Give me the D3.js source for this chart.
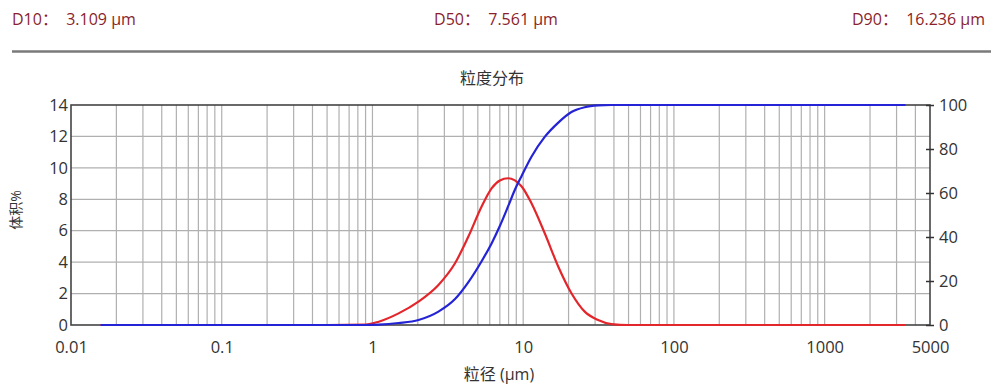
<!DOCTYPE html>
<html>
<head>
<meta charset="utf-8">
<script src="https://cdn.jsdelivr.net/npm/d3@7"></script>
<style>
  html, body { margin: 0; padding: 0; background: #fff; }
  svg { display: block; font-family: "Open Sans", "Noto Sans CJK SC", sans-serif; }
</style>
</head>
<body>
<svg id="chart" width="991" height="384"></svg>
<script>
// particle size (um)
const sizes = [0.0157, 0.1, 0.5, 0.9, 1.10, 1.49, 2.02, 2.74, 3.53, 4.33, 5.30, 6.17, 7.00, 7.95, 8.81, 9.80, 11.35, 13.9, 17.1, 20.9, 25.6, 31.4, 38.5, 50, 100, 1000, 3440];
// volume % (left axis)
const volume = [0, 0, 0, 0.03, 0.21, 0.74, 1.49, 2.55, 3.93, 5.63, 7.54, 8.70, 9.20, 9.34, 9.20, 8.80, 7.75, 5.84, 3.71, 2.02, 0.85, 0.32, 0.06, 0, 0, 0, 0];
// cumulative % (right axis)
const cumulative = [0, 0, 0, 0, 0.15, 0.9, 2.3, 6.1, 11.8, 19.5, 29, 37.1, 45, 54, 61.5, 68, 76.5, 85.5, 92, 96.8, 99.0, 99.8, 100, 100, 100, 100, 100];

const xTicks = [0.01, 0.1, 1, 10, 100, 1000, 5000];
const yLeftTicks = [0, 2, 4, 6, 8, 10, 12, 14];
const yRightTicks = [0, 20, 40, 60, 80, 100];
const dLabels = ["D10：", "D50：", "D90："];
const dValues = ["3.109 μm", "7.561 μm", "16.236 μm"];

const svg = d3.select("#chart");
const plotLeft = 71, plotRight = 930, plotTop = 105, plotBottom = 325;
const tickFont = "16.5px";

const x = d3.scaleLog().domain([0.01, 5000]).range([plotLeft, plotRight]);
const yL = d3.scaleLinear().domain([0, 14]).range([plotBottom, plotTop]);
const yR = d3.scaleLinear().domain([0, 100]).range([plotBottom, plotTop]);

// header with D values
const header = svg.append("g").attr("fill", "#8a1e2c").style("font-size", "16px");
[[12, "start"], [496, "middle"], [985, "end"]].forEach(([hx, anchor], i) => {
  header.append("text").attr("x", hx).attr("y", 25).attr("text-anchor", anchor)
    .attr("xml:space", "preserve")
    .text(dLabels[i] + "  " + dValues[i]);
});
svg.append("line").attr("x1", 12).attr("x2", 991).attr("y1", 51.5).attr("y2", 51.5)
  .attr("stroke", "#7a7a7a").attr("stroke-width", 2.5);

// title
svg.append("text").attr("x", 492).attr("y", 84).attr("text-anchor", "middle")
  .style("font-size", "16px").attr("fill", "#333").text("粒度分布");

// grid
const minor = [];
[0.01, 0.1, 1, 10, 100, 1000].forEach(d => {
  for (let k = 1; k <= 9; k++) {
    const v = d * k;
    if (v > 0.01 && v < 5000) minor.push(v);
  }
});
svg.append("g").selectAll("line").data(minor).join("line")
  .attr("x1", d => x(d)).attr("x2", d => x(d)).attr("y1", plotTop).attr("y2", plotBottom)
  .attr("stroke", "#b0b0b0").attr("stroke-width", 1.2);
svg.append("g").selectAll("line").data(yLeftTicks.slice(1, -1)).join("line")
  .attr("x1", plotLeft).attr("x2", plotRight).attr("y1", d => yL(d)).attr("y2", d => yL(d))
  .attr("stroke", "#b0b0b0").attr("stroke-width", 1.2);

// frame
svg.append("rect").attr("x", plotLeft).attr("y", plotTop)
  .attr("width", plotRight - plotLeft).attr("height", plotBottom - plotTop)
  .attr("fill", "none").attr("stroke", "#444").attr("stroke-width", 1.6);

// axes
const axL = svg.append("g").attr("transform", `translate(${plotLeft},0)`)
  .call(d3.axisLeft(yL).tickValues(yLeftTicks).tickSize(0).tickPadding(3));
const axR = svg.append("g").attr("transform", `translate(${plotRight},0)`)
  .call(d3.axisRight(yR).tickValues(yRightTicks).tickSizeInner(4).tickSizeOuter(0).tickPadding(5));
axR.selectAll(".tick line").attr("x1", -4).attr("stroke", "#333").attr("stroke-width", 1.5);
const axB = svg.append("g").attr("transform", `translate(0,${plotBottom})`)
  .call(d3.axisBottom(x).tickValues(xTicks).tickFormat(d => String(d)).tickSize(0).tickPadding(16));
[axL, axR, axB].forEach(a => {
  a.select(".domain").remove();
  a.selectAll("text").style("font-size", tickFont).attr("fill", "#333").style("font-family", "\"Open Sans\", sans-serif");
});

// axis labels
svg.append("text").attr("x", 499).attr("y", 380).attr("text-anchor", "middle")
  .style("font-size", "16px").attr("fill", "#333").text("粒径 (μm)");
svg.append("text").attr("transform", "translate(21,210) rotate(-90)").attr("text-anchor", "middle")
  .style("font-size", "14px").attr("fill", "#333").text("体积%");

// curves
const pts = sizes.map((s, i) => ({ s, v: volume[i], c: cumulative[i] }));
svg.append("path").datum(pts)
  .attr("d", d3.line().x(d => x(d.s)).y(d => yL(d.v)).curve(d3.curveMonotoneX))
  .attr("fill", "none").attr("stroke", "#e3262b").attr("stroke-width", 2.2);
svg.append("path").datum(pts)
  .attr("d", d3.line().x(d => x(d.s)).y(d => yR(d.c)).curve(d3.curveMonotoneX))
  .attr("fill", "none").attr("stroke", "#2424d6").attr("stroke-width", 2.2);
</script>
</body>
</html>
